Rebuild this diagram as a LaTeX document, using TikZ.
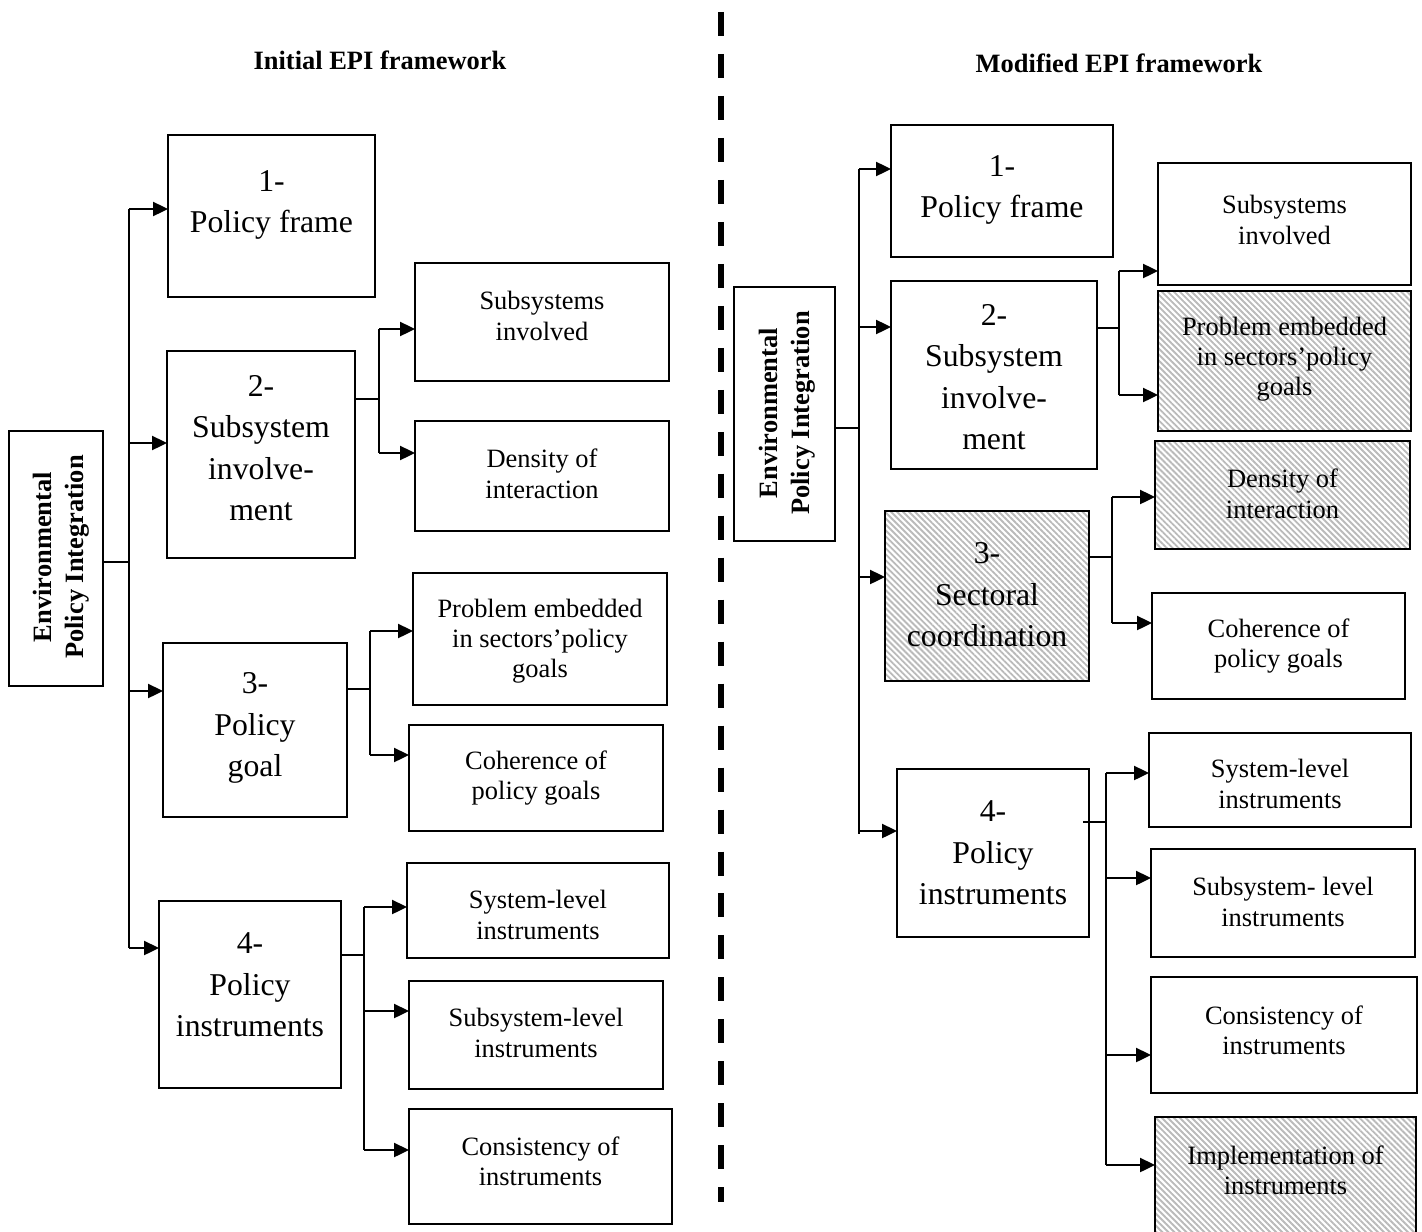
\documentclass[tikz,border=0pt]{standalone}
\usepackage{fontspec}
\setmainfont{Liberation Serif}
\usetikzlibrary{arrows.meta,patterns.meta}
\newcommand\pbox[6]{\node[#6, anchor=north west, minimum width={(#4-#2)*0.567pt}, minimum height={(#5-#3)*0.567pt}] (#1) at (#2,#3) {};}
\begin{document}
\begin{tikzpicture}[x=0.567pt,y=-0.567pt,
  box/.style={draw, line width=0.8pt, inner sep=0pt, outer sep=0pt},
  hbox/.style={box, pattern={Lines[angle=-45,distance=2.4pt,line width=1.05pt]}, pattern color=black!27},
  big/.style={font=\fontsize{18}{23.5}\selectfont, align=center, inner sep=0pt},
  small/.style={font=\fontsize{15}{17.1}\selectfont, align=center, inner sep=0pt, yshift=1.2pt},
  ttl/.style={font=\bfseries\fontsize{15}{18}\selectfont, inner sep=0pt},
  epi/.style={font=\bfseries\fontsize{15}{18.1}\selectfont, align=center, rotate=90, inner sep=0pt},
  ln/.style={line width=1.1pt},
  arr/.style={ln, -{Triangle[length=8.5pt,width=8pt]}}]
\useasboundingbox (0,0) rectangle (1422,1231);
\clip (0,0) rectangle (1422,1231);

% ---------- titles and divider ----------
\node[ttl] (T1) at (380,60) {Initial EPI framework};
\node[ttl] (T2) at (1119,63) {Modified EPI framework};
\coordinate (d1) at (721,12);
\coordinate (d2) at (721,1202);
\draw[line width=3.4pt, dash pattern=on 13.6pt off 10.2pt] (d1) -- (d2);

% ---------- left framework ----------
\pbox{E1}{9}{431}{103}{686}{box}
\node[epi] (E1t) at (61,557) {Environmental\\Policy Integration};

\pbox{L1}{168}{135}{375}{297}{box}
\node[big] (L1t) at (L1.center |- 0,205) {1-\\Policy frame};
\pbox{L2}{167}{351}{355}{558}{box}
\node[big] (L2t) at (L2.center |- 0,448) {2-\\Subsystem\\involve-\\ment};
\pbox{L3}{163}{643}{347}{817}{box}
\node[big] (L3t) at (L3.center |- 0,728) {3-\\Policy\\goal};
\pbox{L4}{159}{901}{341}{1088}{box}
\node[big] (L4t) at (L4.center |- 0,985) {4-\\Policy\\instruments};

\pbox{A1}{415}{263}{669}{381}{box}
\node[small] (A1t) at (A1.center |- 0,318) {Subsystems\\involved};
\pbox{A2}{415}{421}{669}{531}{box}
\node[small] (A2t) at (A2.center |- 0,476) {Density of\\interaction};
\pbox{B1}{413}{573}{667}{705}{box}
\node[small] (B1t) at (B1.center |- 0,643) {Problem embedded\\in sectors’policy\\goals};
\pbox{B2}{409}{725}{663}{831}{box}
\node[small] (B2t) at (B2.center |- 0,780) {Coherence of\\policy goals};
\pbox{C1}{407}{863}{669}{958}{box}
\node[small] (C1t) at (C1.center |- 0,917) {System-level\\instruments};
\pbox{C2}{409}{981}{663}{1089}{box}
\node[small] (C2t) at (C2.center |- 0,1035) {Subsystem-level\\instruments};
\pbox{C3}{409}{1109}{672}{1224}{box}
\node[small] (C3t) at (C3.center |- 0,1163) {Consistency of\\instruments};

% left connectors
\coordinate (lm) at (129,562);
\coordinate (l1) at (129,209);
\coordinate (l2) at (129,443);
\coordinate (l3) at (129,691);
\coordinate (l4) at (129,948);
\draw[ln] (E1.east |- lm) -- (lm);
\draw[ln] (l1) -- (l4);
\draw[arr] (l1) -- (l1 -| L1.west);
\draw[arr] (l2) -- (l2 -| L2.west);
\draw[arr] (l3) -- (l3 -| L3.west);
\draw[arr] (l4) -- (l4 -| L4.west);

\coordinate (m2) at (379,399);
\coordinate (a1) at (379,329);
\coordinate (a2) at (379,453);
\draw[ln] (m2 -| L2.east) -- (m2);
\draw[ln] (a1) -- (a2);
\draw[arr] (a1) -- (a1 -| A1.west);
\draw[arr] (a2) -- (a2 -| A2.west);

\coordinate (m3) at (370,689);
\coordinate (b1) at (370,631);
\coordinate (b2) at (370,755);
\draw[ln] (m3 -| L3.east) -- (m3);
\draw[ln] (b1) -- (b2);
\draw[arr] (b1) -- (b1 -| B1.west);
\draw[arr] (b2) -- (b2 -| B2.west);

\coordinate (m4) at (364,955);
\coordinate (c1) at (364,907);
\coordinate (c2) at (364,1011);
\coordinate (c3) at (364,1150);
\draw[ln] (m4 -| L4.east) -- (m4);
\draw[ln] (c1) -- (c3);
\draw[arr] (c1) -- (c1 -| C1.west);
\draw[arr] (c2) -- (c2 -| C2.west);
\draw[arr] (c3) -- (c3 -| C3.west);

% ---------- right framework ----------
\pbox{E2}{734}{287}{835}{541}{box}
\node[epi] (E2t) at (787,413) {Environmental\\Policy Integration};

\pbox{R1}{891}{125}{1113}{257}{box}
\node[big] (R1t) at (R1.center |- 0,190) {1-\\Policy frame};
\pbox{R2}{891}{281}{1097}{469}{box}
\node[big] (R2t) at (R2.center |- 0,377) {2-\\Subsystem\\involve-\\ment};
\pbox{R3}{885}{511}{1089}{681}{hbox}
\node[big] (R3t) at (R3.center |- 0,595) {3-\\Sectoral\\coordination};
\pbox{R4}{897}{769}{1089}{937}{box}
\node[big] (R4t) at (R4.center |- 0,853) {4-\\Policy\\instruments};

\pbox{S1}{1158}{163}{1411}{285}{box}
\node[small] (S1t) at (S1.center |- 0,222) {Subsystems\\involved};
\pbox{S2}{1158}{291}{1411}{431}{hbox}
\node[small] (S2t) at (S2.center |- 0,361) {Problem embedded\\in sectors’policy\\goals};
\pbox{V1}{1155}{441}{1410}{549}{hbox}
\node[small] (V1t) at (V1.center |- 0,496) {Density of\\interaction};
\pbox{V2}{1152}{593}{1405}{699}{box}
\node[small] (V2t) at (V2.center |- 0,648) {Coherence of\\policy goals};
\pbox{U1}{1149}{733}{1411}{827}{box}
\node[small] (U1t) at (U1.center |- 0,786) {System-level\\instruments};
\pbox{U2}{1151}{849}{1415}{957}{box}
\node[small] (U2t) at (U2.center |- 0,904) {Subsystem- level\\instruments};
\pbox{U3}{1151}{977}{1417}{1093}{box}
\node[small] (U3t) at (U3.center |- 0,1032) {Consistency of\\instruments};
\pbox{U4}{1155}{1117}{1416}{1250}{hbox}
\node[small] (U4t) at (U4.center |- 0,1172) {Implementation of\\instruments};

% right connectors
\coordinate (rm) at (859,428);
\coordinate (r1) at (859,169);
\coordinate (r2) at (859,327);
\coordinate (r3) at (859,577);
\coordinate (r4) at (859,831);
\coordinate (rb) at (859,834);
\draw[ln] (E2.east |- rm) -- (rm);
\draw[ln] (r1) -- (rb);
\draw[arr] (r1) -- (r1 -| R1.west);
\draw[arr] (r2) -- (r2 -| R2.west);
\draw[arr] (r3) -- (r3 -| R3.west);
\draw[arr] (r4) -- (r4 -| R4.west);

\coordinate (n2) at (1119,328);
\coordinate (s1) at (1119,271);
\coordinate (s2) at (1119,395);
\draw[ln] (n2 -| R2.east) -- (n2);
\draw[ln] (s1) -- (s2);
\draw[arr] (s1) -- (s1 -| S1.west);
\draw[arr] (s2) -- (s2 -| S2.west);

\coordinate (n3) at (1112,557);
\coordinate (v1) at (1112,497);
\coordinate (v2) at (1112,623);
\draw[ln] (n3 -| R3.east) -- (n3);
\draw[ln] (v1) -- (v2);
\draw[arr] (v1) -- (v1 -| V1.west);
\draw[arr] (v2) -- (v2 -| V2.west);

\coordinate (n4) at (1106,822);
\coordinate (n4s) at (1083,822);
\coordinate (u1) at (1106,773);
\coordinate (u2) at (1106,878);
\coordinate (u3) at (1106,1055);
\coordinate (u4) at (1106,1165);
\draw[ln] (n4s) -- (n4);
\draw[ln] (u1) -- (u4);
\draw[arr] (u1) -- (u1 -| U1.west);
\draw[arr] (u2) -- (u2 -| U2.west);
\draw[arr] (u3) -- (u3 -| U3.west);
\draw[arr] (u4) -- (u4 -| U4.west);
\end{tikzpicture}
\end{document}
